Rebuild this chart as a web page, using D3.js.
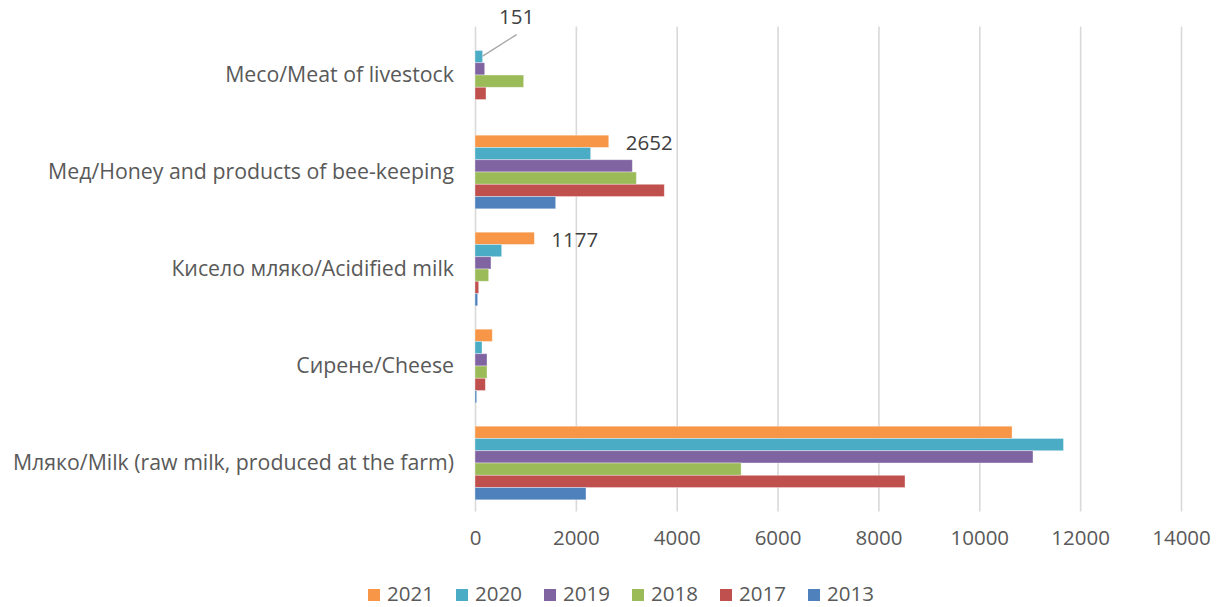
<!DOCTYPE html>
<html>
<head>
<meta charset="utf-8">
<script src="https://cdn.jsdelivr.net/npm/d3@7"></script>
<style>
  html, body { margin: 0; padding: 0; background: #fff; }
  svg { display: block; }
</style>
</head>
<body>
<div id="chart"></div>
<script>
const categories = [
    "Месо/Meat of livestock",
    "Мед/Honey and products of bee-keeping",
    "Кисело мляко/Acidified milk",
    "Сирене/Cheese",
    "Мляко/Milk (raw milk, produced at the farm)"
];
const years = ["2021", "2020", "2019", "2018", "2017", "2013"];
const yearColors = ["#F79646", "#4BACC6", "#8064A2", "#9BBB59", "#C0504D", "#4F81BD"];

const values2021 = [0, 2652, 1177, 343, 10650];
const values2020 = [151, 2294, 529, 139, 11670];
const values2019 = [192, 3120, 317, 238, 11065];
const values2018 = [965, 3199, 271, 238, 5277];
const values2017 = [218, 3754, 73, 205, 8527];
const values2013 = [0, 1600, 53, 33, 2201];

const xTicks = [0, 2000, 4000, 6000, 8000, 10000, 12000, 14000];

// data labels shown on the reference: [year, category index]
const labelledBars = [["2020", 0], ["2021", 1], ["2021", 2]];

const width = 1223;
const height = 607;
const margin = { top: 26.5, right: 42, bottom: 95.5, left: 475 };
const innerWidth = width - margin.left - margin.right;
const innerHeight = height - margin.top - margin.bottom;
const font = "'Open Sans', sans-serif";

const seriesList = [values2021, values2020, values2019, values2018, values2017, values2013]
    .map((vals, i) => ({ year: years[i], color: yearColors[i], values: vals }));

const rows = [];
seriesList.forEach(s => s.values.forEach((v, ci) => {
    rows.push({ year: s.year, color: s.color, category: categories[ci], value: v });
}));

const xScale = d3.scaleLinear().domain([0, 14000]).range([0, innerWidth]);
const yScale = d3.scaleBand().domain(categories).range([0, innerHeight])
    .paddingInner(0.241).paddingOuter(0.1205);
const yInner = d3.scaleBand().domain(years).range([0, yScale.bandwidth()]);

const svg = d3.select("#chart").append("svg")
    .attr("width", width)
    .attr("height", height)
    .attr("viewBox", `0 0 ${width} ${height}`);

const group = svg.append("g")
    .attr("transform", `translate(${margin.left}, ${margin.top})`);

// vertical gridlines (the zero line is drawn the same way)
group.append("g")
    .attr("class", "x-grid")
    .call(d3.axisBottom(xScale).tickValues(xTicks).tickSize(innerHeight).tickFormat(""))
    .call(g => g.select(".domain").remove())
    .call(g => g.selectAll(".tick text").remove())
    .call(g => g.selectAll(".tick line")
        .attr("stroke", "#d9d9d9")
        .attr("stroke-width", 1.6));

group.append("g")
    .attr("class", "x-axis")
    .attr("transform", `translate(0, ${innerHeight})`)
    .call(d3.axisBottom(xScale).tickValues(xTicks).tickSize(0).tickPadding(19).tickFormat(d3.format("d")))
    .call(g => g.select(".domain").remove())
    .call(g => g.selectAll(".tick text")
        .style("font-family", font)
        .style("font-size", "20.5px")
        .style("fill", "#595959"));

group.append("g")
    .attr("class", "y-axis")
    .call(d3.axisLeft(yScale).tickSize(0).tickPadding(21))
    .call(g => g.select(".domain").remove())
    .call(g => g.selectAll(".tick text")
        .style("font-family", font)
        .style("font-size", "21.3px")
        .style("fill", "#595959"));

group.append("g")
    .attr("class", "bars")
    .selectAll("rect")
    .data(rows)
    .join("rect")
    .attr("x", xScale(0))
    .attr("y", d => yScale(d.category) + yInner(d.year))
    .attr("width", d => xScale(d.value) - xScale(0))
    .attr("height", yInner.bandwidth())
    .attr("fill", d => d.color)
    .attr("stroke", "#ffffff")
    .attr("stroke-opacity", 0.45)
    .attr("stroke-width", 0.8);

// data labels
const labels = labelledBars.map(([year, ci]) => {
    const s = seriesList.find(x => x.year === year);
    return { year, category: categories[ci], value: s.values[ci] };
});

labels.forEach((d, i) => {
    const xEnd = xScale(d.value);
    const yMid = yScale(d.category) + yInner(d.year) + yInner.bandwidth() / 2;
    if (i === 0) {
        // small bar: label lifted above with leader line
        group.append("line")
            .attr("x1", xEnd)
            .attr("y1", yMid - 0.5)
            .attr("x2", xEnd + 34)
            .attr("y2", yMid - 22)
            .attr("stroke", "#a6a6a6")
            .attr("stroke-width", 1.3);
        group.append("text")
            .attr("x", xEnd + 34)
            .attr("y", yMid - 40)
            .attr("dy", "0.35em")
            .attr("text-anchor", "middle")
            .attr("fill", "#404040")
            .style("font-family", font)
            .style("font-size", "20.5px")
            .text(d3.format("d")(d.value));
    } else {
        group.append("text")
            .attr("x", xEnd + 17)
            .attr("y", yMid + 2)
            .attr("dy", "0.35em")
            .attr("fill", "#404040")
            .style("font-family", font)
            .style("font-size", "20.5px")
            .text(d3.format("d")(d.value));
    }
});

// legend
const legendGroup = svg.append("g")
    .attr("class", "legend")
    .attr("transform", `translate(368, 594)`);

const legendItems = legendGroup.selectAll("g")
    .data(seriesList)
    .join("g")
    .attr("transform", (d, i) => `translate(${i * 88}, 0)`);

legendItems.append("rect")
    .attr("x", 0)
    .attr("y", -5)
    .attr("width", 12)
    .attr("height", 12)
    .attr("fill", d => d.color);

legendItems.append("text")
    .attr("x", 19)
    .attr("y", 0)
    .attr("dy", "0.35em")
    .attr("fill", "#595959")
    .style("font-family", font)
    .style("font-size", "20.5px")
    .text(d => d.year);
</script>
</body>
</html>
